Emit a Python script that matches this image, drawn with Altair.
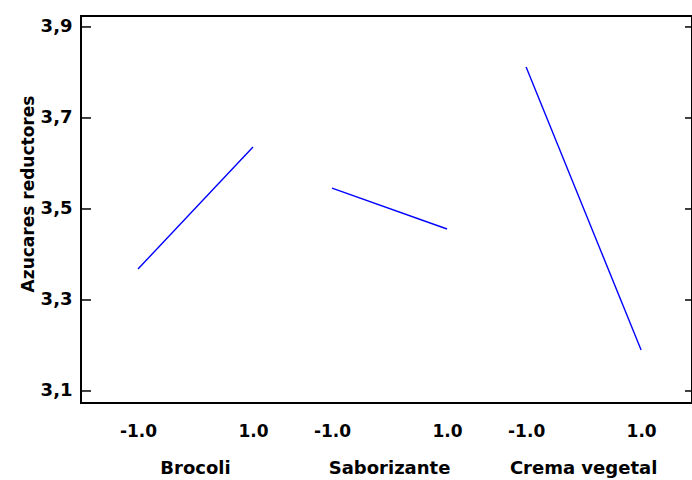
import altair as alt
import pandas as pd

factors = ["Brocoli", "Saborizante", "Crema vegetal"]
levels = [-1.0, 1.0]
low_means = [3.368, 3.546, 3.812]
high_means = [3.636, 3.456, 3.190]
y_ticks = [3.1, 3.3, 3.5, 3.7, 3.9]

GAP = 3.375  # spacing between factor panels in x units

rows = []
for i, f in enumerate(factors):
    for lv, val in zip(levels, [low_means[i], high_means[i]]):
        rows.append({"factor": f, "level": lv, "x": i * GAP + lv, "y": val})
df = pd.DataFrame(rows)
names_df = pd.DataFrame({"factor": factors, "x": [i * GAP for i in range(len(factors))]})
ticks_df = pd.DataFrame({"y": y_ticks})
x_tick_vals = [i * GAP + lv for i in range(len(factors)) for lv in levels]

W, H = 611, 387
xscale = alt.Scale(domain=[-1.991, 8.635], nice=False, zero=False)
yscale = alt.Scale(domain=[3.0736, 3.9241], nice=False, zero=False)

x_axis = alt.Axis(values=x_tick_vals, ticks=False, domain=False, grid=False,
                  labelExpr=f"(datum.value - {GAP}*round(datum.value/{GAP})) < 0 ? '-1.0' : '1.0'",
                  labelFontSize=17, labelFontWeight="bold", labelBaseline="middle",
                  labelPadding=28, labelColor="black", labelFont="DejaVu Sans",
                  labelOverlap=False)

lines = alt.Chart(df).mark_line(color="#0000ff", strokeWidth=1.4).encode(
    x=alt.X("x:Q", scale=xscale, title=None, axis=x_axis),
    y=alt.Y("y:Q", scale=yscale, title="Azucares reductores",
            axis=alt.Axis(values=y_ticks, ticks=False, domain=False, grid=False,
                          labelExpr="replace(format(datum.value, '.1f'), '.', ',')",
                          labelFontSize=18, labelFontWeight="bold", labelPadding=9,
                          labelColor="black", labelFont="DejaVu Sans",
                          titleFontSize=17, titleFontWeight="bold", titleFont="DejaVu Sans",
                          titleColor="black", titleX=-48, titleY=177.5,
                          titleBaseline="alphabetic", titleAngle=270)),
    detail="factor:N",
)

left_ticks = alt.Chart(ticks_df).mark_rule(color="black", strokeWidth=1.5).encode(
    y=alt.Y("y:Q", scale=yscale, title="Azucares reductores"),
    x=alt.value(0), x2=alt.value(10),
)
right_ticks = alt.Chart(ticks_df).mark_rule(color="black", strokeWidth=1.5).encode(
    y=alt.Y("y:Q", scale=yscale, title="Azucares reductores"),
    x=alt.value(W - 7), x2=alt.value(W),
)

names = alt.Chart(names_df).mark_text(
    fontSize=18, fontWeight="bold", font="DejaVu Sans", color="black", baseline="middle"
).encode(
    x=alt.X("x:Q", scale=xscale, title=None, axis=x_axis),
    y=alt.value(453),
    text="factor:N",
)

chart = alt.layer(lines, left_ticks, right_ticks, names).properties(
    width=W, height=H,
    background="white",
    autosize=alt.AutoSizeParams(type="none"),
    padding={"left": 81, "top": 16, "right": 0, "bottom": 77},
).configure_view(
    stroke="black", strokeWidth=2
)

chart.save("out.html", embed_options={"renderer": "svg", "actions": False})
